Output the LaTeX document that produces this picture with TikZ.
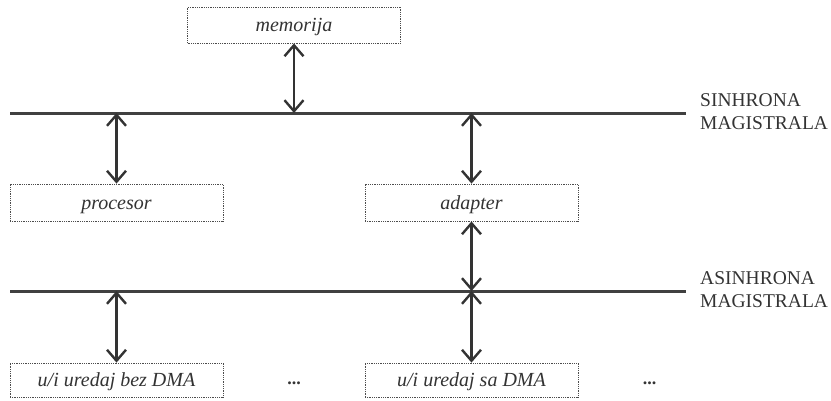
\documentclass[tikz,border=0pt]{standalone}
\usepackage{fontspec}
\setmainfont{Liberation Serif}
\usetikzlibrary{arrows.meta}

\tikzset{
  blok/.style={draw=black!70, densely dotted, line width=0.8pt, minimum width=213pt,
    inner sep=0pt, text height=13pt, text depth=0pt,
    font=\fontsize{20}{24}\selectfont\itshape, text=black!80},
  magistrala/.style={line width=3pt, draw=black!75},
  veza/.style={line width=2.4pt, draw=black!80,
    {Straight Barb[length=11pt,width=19pt,line width=2.4pt]}-{Straight Barb[length=11pt,width=19pt,line width=2.4pt]}},
  natpis/.style={anchor=west, align=left, font=\fontsize{19.5}{23}\selectfont, text=black!80, inner sep=0pt},
  tacke/.style={font=\fontsize{18}{22}\selectfont\bfseries, text=black!80}
}

\begin{document}
\begin{tikzpicture}[x=1pt, y=-1pt]
            \useasboundingbox (0,0) rectangle (831,400);
            \node[blok, minimum height=36pt] (mem) at (294,25) {memorija};
            \node[blok, minimum height=37pt] (proc) at (116.5,202.5) {procesor};
            \node[blok, minimum height=37pt] (adapt) at (471.5,202.5) {adapter};
            \node[blok, minimum height=34pt] (ubez) at (116.5,380) {u/i uredaj bez DMA};
            \node[blok, minimum height=34pt] (usa) at (471.5,380) {u/i uredaj sa DMA};
            \node[tacke] (tacke1) at (294,383) {...};
            \node[tacke] (tacke2) at (649.5,383) {...};
            \coordinate (sl) at (10,113);
            \coordinate (sd) at (686,113);
            \coordinate (al) at (10,291);
            \coordinate (ad) at (686,291);
            \draw[magistrala] (sl) -- (sd);
            \draw[magistrala] (al) -- (ad);
            \node[natpis] (sinh) at (700,111.5) {SINHRONA\\MAGISTRALA};
            \node[natpis] (asinh) at (700,289.5) {ASINHRONA\\MAGISTRALA};
            \draw[veza] (mem.south) -- (mem.south |- sl);
            \draw[veza] (proc.north |- sl) -- (proc.north);
            \draw[veza] (adapt.north |- sl) -- (adapt.north);
            \draw[veza] (adapt.south) -- (adapt.south |- al);
            \draw[veza] (ubez.north |- al) -- (ubez.north);
            \draw[veza] (usa.north |- al) -- (usa.north);
\end{tikzpicture}
\end{document}
